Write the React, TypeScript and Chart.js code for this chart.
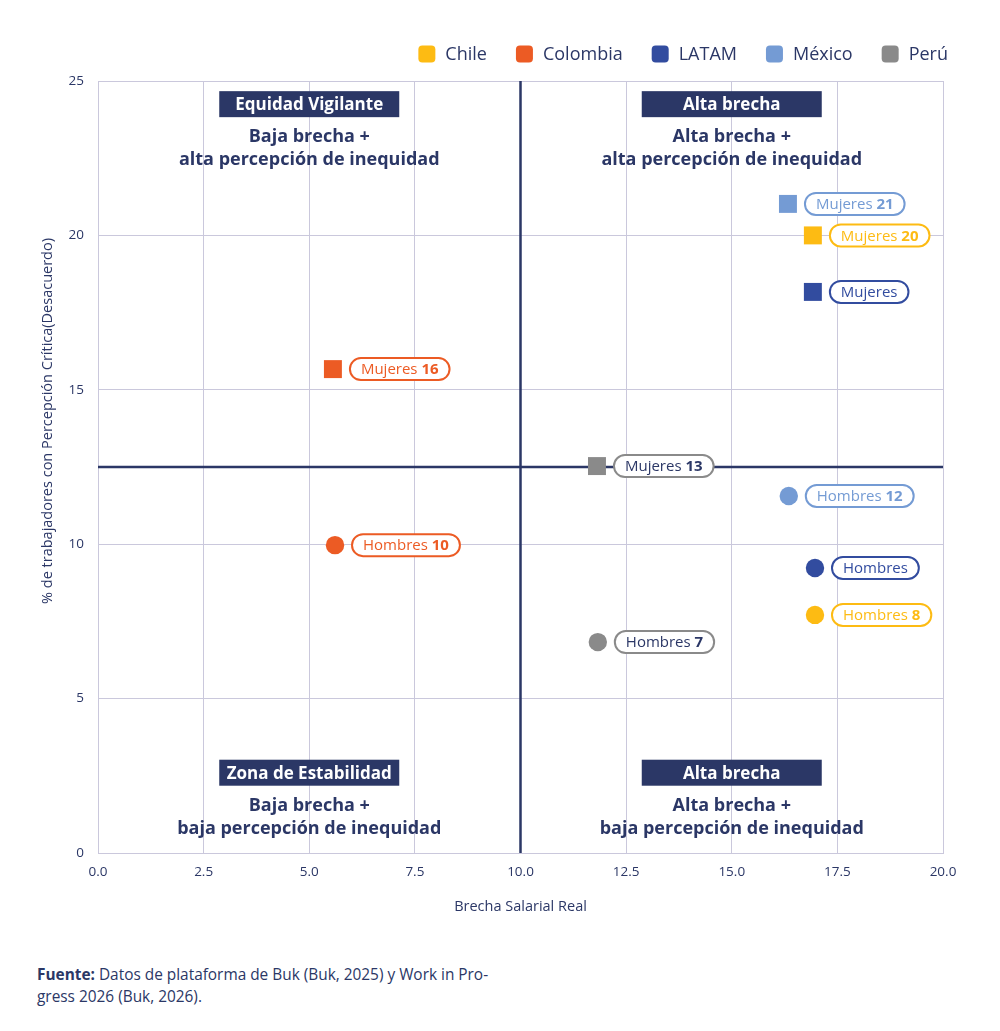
import React, { useEffect, useRef } from "react";
import { Chart, registerables } from "chart.js";

Chart.register(...registerables);

const countries = ["Chile", "Colombia", "LATAM", "México", "Perú"];
const colors = ["#FDBB13", "#EC5B24", "#324C9F", "#749BD4", "#8A8A8A"];
const textColors = ["#FDBB13", "#EC5B24", "#324C9F", "#749BD4", "#2B3766"];
// Mujeres (squares)
const mujeresX = [16.92, 5.56, 16.92, 16.33, 11.81];
const mujeresY = [20.0, 15.67, 18.17, 21.02, 12.53];
const mujeresLabel = ["20", "16", "", "21", "13"];
// Hombres (circles)
const hombresX = [16.97, 5.61, 16.97, 16.35, 11.83];
const hombresY = [7.71, 9.97, 9.23, 11.56, 6.83];
const hombresLabel = ["8", "10", "", "12", "7"];

const xTicks = [0, 2.5, 5, 7.5, 10, 12.5, 15, 17.5, 20];
const yTicks = [0, 5, 10, 15, 20, 25];
const xCut = 10;
const yCut = 12.5;

const quadrants = [
  { x: 5, yBox: 24.25, title: "Equidad Vigilante", lines: ["Baja brecha +", "alta percepción de inequidad"] },
  { x: 15, yBox: 24.25, title: "Alta brecha", lines: ["Alta brecha +", "alta percepción de inequidad"] },
  { x: 5, yBox: 2.6, title: "Zona de Estabilidad", lines: ["Baja brecha +", "baja percepción de inequidad"] },
  { x: 15, yBox: 2.6, title: "Alta brecha", lines: ["Alta brecha +", "baja percepción de inequidad"] },
];

const NAVY = "#2B3766";
const GRID = "#CAC8DC";
const FONT = "'Open Sans', 'Noto Sans', sans-serif";

function roundRect(ctx: CanvasRenderingContext2D, x: number, y: number, w: number, h: number, r: number) {
  ctx.beginPath();
  ctx.moveTo(x + r, y);
  ctx.lineTo(x + w - r, y);
  ctx.arcTo(x + w, y, x + w, y + r, r);
  ctx.lineTo(x + w, y + h - r);
  ctx.arcTo(x + w, y + h, x + w - r, y + h, r);
  ctx.lineTo(x + r, y + h);
  ctx.arcTo(x, y + h, x, y + h - r, r);
  ctx.lineTo(x, y + r);
  ctx.arcTo(x, y, x + r, y, r);
  ctx.closePath();
}

const quadPlugin = {
  id: "quadPlugin",
  beforeDatasetsDraw(chart: any) {
    const { ctx, chartArea, scales } = chart;
    const xs = scales.x;
    const ys = scales.y;
    ctx.save();
    quadrants.forEach((q) => {
      const cx = xs.getPixelForValue(q.x);
      const cy = ys.getPixelForValue(q.yBox);
      ctx.fillStyle = NAVY;
      ctx.fillRect(cx - 90, cy - 13, 180, 26);
      ctx.fillStyle = "#fff";
      ctx.font = `bold 17px ${FONT}`;
      ctx.textAlign = "center";
      ctx.textBaseline = "middle";
      ctx.fillText(q.title, cx, cy + 1);
      ctx.fillStyle = NAVY;
      ctx.font = `bold 18px ${FONT}`;
      q.lines.forEach((l, i) => ctx.fillText(l, cx, cy + 33 + i * 23));
    });
    ctx.strokeStyle = NAVY;
    ctx.lineWidth = 2.5;
    const px = xs.getPixelForValue(xCut);
    const py = ys.getPixelForValue(yCut);
    ctx.beginPath();
    ctx.moveTo(px, chartArea.top);
    ctx.lineTo(px, chartArea.bottom);
    ctx.moveTo(chartArea.left, py);
    ctx.lineTo(chartArea.right, py);
    ctx.stroke();
    ctx.restore();
  },
  afterDatasetsDraw(chart: any) {
    const { ctx } = chart;
    ctx.save();
    chart.data.datasets.forEach((ds: any, di: number) => {
      const meta = chart.getDatasetMeta(di);
      meta.data.forEach((pt: any, i: number) => {
        const raw = ds.data[i];
        const word = raw.g;
        const num = raw.label;
        ctx.font = `15px ${FONT}`;
        const w1 = ctx.measureText(word + (num ? " " : "")).width;
        ctx.font = `bold 15px ${FONT}`;
        const w2 = num ? ctx.measureText(num).width : 0;
        const padL = 11;
        const padR = 11;
        const w = w1 + w2 + padL + padR;
        const h = 22;
        const left = pt.x + 17;
        const top = pt.y - h / 2;
        roundRect(ctx, left, top, w, h, h / 2);
        ctx.fillStyle = "#fff";
        ctx.fill();
        ctx.lineWidth = 2;
        ctx.strokeStyle = colors[di];
        ctx.stroke();
        ctx.fillStyle = textColors[di];
        ctx.textAlign = "left";
        ctx.textBaseline = "middle";
        ctx.font = `15px ${FONT}`;
        ctx.fillText(word + (num ? " " : ""), left + padL, pt.y + 1);
        if (num) {
          ctx.font = `bold 15px ${FONT}`;
          ctx.fillText(num, left + padL + w1, pt.y + 1);
        }
      });
    });
    // legend
    ctx.font = `18px ${FONT}`;
    ctx.textBaseline = "middle";
    ctx.textAlign = "left";
    let xr = 948;
    const ly = 54;
    for (let i = countries.length - 1; i >= 0; i--) {
      const tw = ctx.measureText(countries[i]).width;
      const tx = xr - tw;
      ctx.fillStyle = NAVY;
      ctx.fillText(countries[i], tx, ly + 1);
      const bx = tx - 10 - 17;
      roundRect(ctx, bx, ly - 8.5, 17, 17, 4);
      ctx.fillStyle = colors[i];
      ctx.fill();
      xr = bx - 29;
    }
    // axis titles
    const { chartArea } = chart;
    ctx.fillStyle = NAVY;
    ctx.font = `14.5px ${FONT}`;
    ctx.textAlign = "center";
    ctx.fillText("Brecha Salarial Real", (chartArea.left + chartArea.right) / 2, 907);
    ctx.translate(48, 421);
    ctx.rotate(-Math.PI / 2);
    ctx.fillText("% de trabajadores con Percepción Crítica(Desacuerdo)", 0, 0);
    ctx.restore();
  },
};

export default function App() {
  const ref = useRef<HTMLCanvasElement>(null);
  useEffect(() => {
    document.body.style.margin = "0";
    const datasets = countries.map((c, i) => ({
      label: c,
      data: [
        { x: mujeresX[i], y: mujeresY[i], g: "Mujeres", label: mujeresLabel[i] },
        { x: hombresX[i], y: hombresY[i], g: "Hombres", label: hombresLabel[i] },
      ],
      backgroundColor: colors[i],
      borderColor: colors[i],
      borderWidth: 0,
      pointStyle: (ctx: any) => (ctx.raw && ctx.raw.g === "Mujeres" ? "rect" : "circle"),
      pointRadius: (ctx: any) => (ctx.raw && ctx.raw.g === "Mujeres" ? 12.7 : 9.2),
      pointHoverRadius: (ctx: any) => (ctx.raw && ctx.raw.g === "Mujeres" ? 12.7 : 9.2),
    }));
    const chart = new Chart(ref.current!, {
      type: "scatter",
      data: { datasets },
      options: {
        responsive: false,
        animation: false,
        devicePixelRatio: 1,
        layout: { padding: { top: 81, right: 57, left: 0, bottom: 0 } },
        plugins: { legend: { display: false }, tooltip: { enabled: false } },
        scales: {
          x: {
            type: "linear",
            min: 0,
            max: 20,
            afterBuildTicks: (s: any) => {
              s.ticks = xTicks.map((v) => ({ value: v }));
            },
            afterFit: (s: any) => {
              s.height = 87;
            },
            grid: { color: GRID, lineWidth: 1, drawTicks: false },
            border: { color: GRID, width: 1 },
            ticks: {
              padding: 11,
              color: NAVY,
              font: { family: "'Liberation Sans Narrow', 'Open Sans', sans-serif", size: 13.5 },
              callback: (v: any) => Number(v).toFixed(1),
            },
          },
          y: {
            type: "linear",
            min: 0,
            max: 25,
            afterBuildTicks: (s: any) => {
              s.ticks = yTicks.map((v) => ({ value: v }));
            },
            afterFit: (s: any) => {
              s.width = 98;
            },
            grid: { color: GRID, lineWidth: 1, drawTicks: false },
            border: { color: GRID, width: 1 },
            ticks: {
              padding: 14,
              color: NAVY,
              font: { family: "'Liberation Sans Narrow', 'Open Sans', sans-serif", size: 13.5 },
            },
          },
        },
      },
      plugins: [quadPlugin],
    });
    return () => chart.destroy();
  }, []);
  return (
    <div style={{ position: "relative", width: 1000, height: 1031, background: "#fff" }}>
      <canvas ref={ref} width={1000} height={940} style={{ display: "block" }} />
      <div
        style={{
          position: "absolute",
          left: 37,
          top: 964,
          width: 480,
          fontFamily: FONT,
          fontSize: 15.4,
          lineHeight: "22px",
          color: NAVY,
        }}
      >
        <b>Fuente:</b> Datos de plataforma de Buk (Buk, 2025) y Work in Pro-
        <br />
        gress 2026 (Buk, 2026).
      </div>
    </div>
  );
}
